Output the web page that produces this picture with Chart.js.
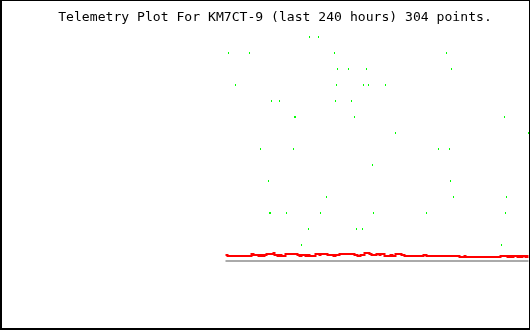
<!DOCTYPE html>
<html>
<head>
<meta charset="utf-8">
<script src="https://cdn.jsdelivr.net/npm/chart.js@4.4.1/dist/chart.umd.min.js"></script>
<style>
  html, body { margin: 0; padding: 0; background: #fff; }
  canvas { display: block; }
</style>
</head>
<body>
<canvas id="telemetry" width="530" height="330"></canvas>
<script>
'use strict';

var titleText = 'Telemetry Plot For KM7CT-9 (last 240 hours) 304 points.';

// red trace, one value per sample (304 samples)
var redValues = [
  6,6,5,5,5,5,5,5,5,5,5,5,5,5,5,5,5,5,5,5,
  5,5,5,5,5,5,7,7,6,6,6,6,6,5,5,6,6,5,5,6,
  6,7,7,7,7,7,7,7,8,6,6,6,5,5,6,6,5,5,5,5,
  7,7,7,7,7,7,7,7,7,7,7,7,6,6,5,5,6,6,6,6,
  5,5,6,6,5,5,5,5,5,5,7,7,7,7,6,7,7,7,7,7,
  7,7,6,6,6,6,6,6,5,5,6,6,6,6,7,7,7,7,7,7,
  7,7,7,7,7,7,7,7,7,6,6,6,5,5,5,6,6,6,6,8,
  8,8,8,8,7,7,6,6,6,6,6,7,7,7,6,7,7,7,7,5,
  5,5,5,5,5,6,6,5,5,5,7,7,7,7,7,7,6,6,6,5,
  5,5,5,5,5,5,5,5,5,5,5,5,5,5,5,5,5,5,6,6,
  6,5,5,5,5,5,5,5,5,5,5,5,5,5,5,5,5,5,5,5,
  5,5,5,5,5,5,5,5,5,5,5,5,5,5,4,4,4,4,4,5,
  4,4,4,4,4,4,4,4,4,4,4,4,4,4,4,4,4,4,4,4,
  4,4,4,4,4,4,4,4,4,4,4,4,4,4,4,5,5,5,5,5,
  5,5,4,4,5,5,4,4,5,5,5,5,4,4,5,5,4,5,5,5,
  4,4,5,5
];

// green samples that land inside the plot
var greenIdx = [
  84, 93,
  3, 24, 109, 221,
  112, 123, 141, 226,
  10, 111, 138, 143, 160,
  46, 54, 110, 126,
  69, 70, 129, 279,
  170, 303,
  35, 68, 213, 224,
  147,
  43, 225,
  101, 228, 281,
  44, 45, 61, 95, 148, 201, 280,
  83, 131, 137,
  76, 276
];
var greenValues = [
  224, 224,
  208, 208, 208, 208,
  192, 192, 192, 192,
  176, 176, 176, 176, 176,
  160, 160, 160, 160,
  144, 144, 144, 144,
  128, 128,
  112, 112, 112, 112,
  96,
  80, 80,
  64, 64, 64,
  48, 48, 48, 48, 48, 48, 48,
  32, 32, 32,
  16, 16
];

// grey baseline
var greyIdx = [0, 303];
var greyValues = [0, 0];

function toPoints(xs, ys) {
  return xs.map(function (x, i) { return { x: x, y: ys[i] }; });
}

var frame = {
  id: 'frame',
  afterDraw: function (chart) {
    var ctx = chart.ctx;
    ctx.save();
    ctx.fillStyle = '#000';
    ctx.fillRect(0, 0, 530, 1);
    ctx.fillRect(0, 0, 2, 330);
    ctx.fillRect(529, 0, 1, 330);
    ctx.fillRect(0, 328, 530, 2);
    ctx.restore();
  }
};

var ctx = document.getElementById('telemetry').getContext('2d');
var chart = new Chart(ctx, {
  type: 'line',
  data: {
    datasets: [
      {
        label: 'green',
        data: toPoints(greenIdx, greenValues),
        showLine: false,
        pointStyle: 'line',
        rotation: 90,
        pointRadius: 1,
        pointBorderWidth: 1,
        borderColor: '#00ff00',
        backgroundColor: '#00ff00',
        order: 0
      },
      {
        label: 'red',
        data: toPoints(redValues.map(function (v, i) { return i; }), redValues),
        borderColor: '#ff0000',
        borderWidth: 2,
        pointRadius: 0,
        stepped: true,
        order: 1
      },
      {
        label: 'grey',
        data: toPoints(greyIdx, greyValues),
        borderColor: '#aaaaaa',
        borderWidth: 2,
        pointRadius: 0,
        order: 2
      }
    ]
  },
  options: {
    responsive: false,
    animation: false,
    events: [],
    layout: { autoPadding: false, padding: { left: 20, right: 0, top: 0, bottom: 0 } },
    scales: {
      x: { type: 'linear', display: false, min: -205.5, max: 304.5 },
      y: { display: false, min: -69, max: 235 }
    },
    plugins: {
      legend: { display: false },
      tooltip: { enabled: false },
      title: {
        display: true,
        text: titleText,
        color: '#000',
        padding: { top: 10, bottom: 0 },
        font: { family: 'DejaVu Sans Mono', size: 13.1, weight: 'normal', lineHeight: '16px' }
      }
    }
  },
  plugins: [frame]
});
</script>
</body>
</html>
